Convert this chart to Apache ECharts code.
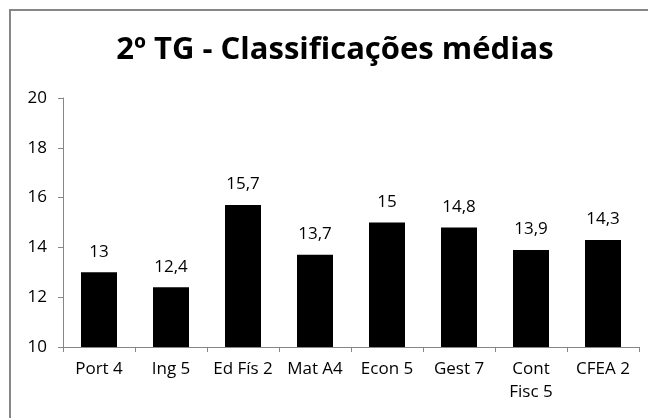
<!DOCTYPE html>
<html>
<head>
<meta charset="utf-8">
<script src="https://cdn.jsdelivr.net/npm/echarts@6/dist/echarts.min.js"></script>
<style>
  html, body { margin: 0; padding: 0; background: #fff; }
  #chart { width: 648px; height: 418px; }
</style>
</head>
<body>
<div id="chart"></div>
<script>
// categorias e médias
const categories = ['Port 4', 'Ing 5', 'Ed Fís 2', 'Mat A4', 'Econ 5', 'Gest 7', 'Cont\nFisc 5', 'CFEA 2']
const values = [13, 12.4, 15.7, 13.7, 15, 14.8, 13.9, 14.3]
const yTicks = [10, 12, 14, 16, 18, 20]

const font = 'Open Sans'
const myChart = echarts.init(document.getElementById('chart'))

myChart.setOption({
  animation: false,
  title: {
    text: '2º TG - Classificações médias',
    left: 330,
    top: 30,
    textAlign: 'center',
    textStyle: { fontFamily: font, fontWeight: 'bold', fontSize: 31, color: '#000' }
  },
  // moldura cinzenta
  graphic: [{
    type: 'rect',
    shape: { x: 10, y: 10, width: 700, height: 500 },
    style: { fill: 'none', stroke: '#868686', lineWidth: 2 }
  }],
  grid: { left: 63, right: 9, top: 98, bottom: 71 },
  xAxis: {
    type: 'category',
    data: categories,
    axisLine: { lineStyle: { color: '#868686' } },
    axisTick: { show: true, alignWithLabel: false, length: 5, lineStyle: { color: '#868686' } },
    axisLabel: { color: '#000', fontFamily: font, fontSize: 17, margin: 11, lineHeight: 23, interval: 0 }
  },
  yAxis: {
    type: 'value',
    min: yTicks[0],
    max: yTicks[yTicks.length - 1],
    interval: 2,
    splitLine: { show: false },
    axisLine: { show: true, lineStyle: { color: '#868686' } },
    axisTick: { show: true, length: 5, lineStyle: { color: '#868686' } },
    axisLabel: { color: '#000', fontFamily: font, fontSize: 17, margin: 16 }
  },
  series: [{
    type: 'bar',
    data: values,
    barWidth: '50%',
    itemStyle: { color: '#000' },
    label: {
      show: true,
      position: 'top',
      distance: 12,
      color: '#000',
      fontFamily: font,
      fontSize: 17,
      formatter: p => String(p.value).replace('.', ',')
    }
  }]
})
</script>
</body>
</html>
